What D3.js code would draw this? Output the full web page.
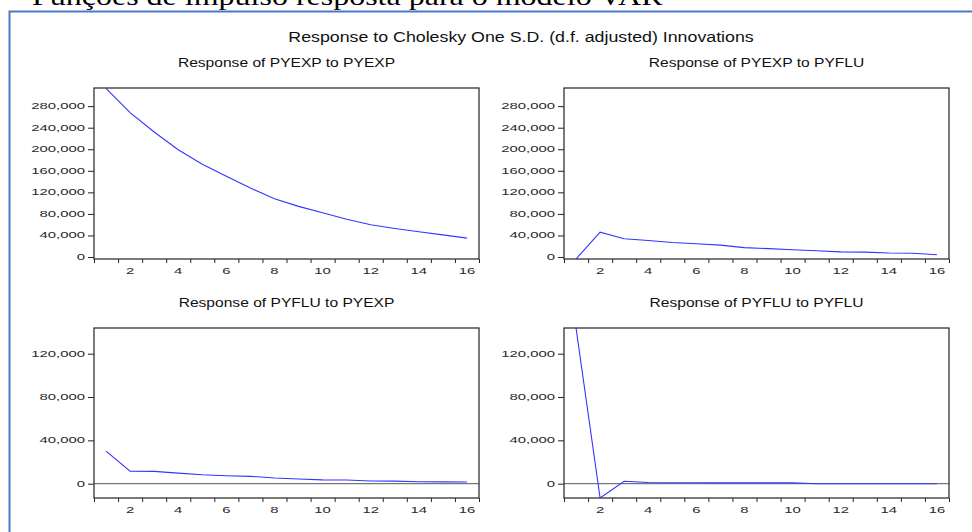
<!DOCTYPE html>
<html>
<head>
<meta charset="utf-8">
<script src="https://cdn.jsdelivr.net/npm/d3@7"></script>
<style>
  body { margin: 0; background: #fff; }
  svg { display: block; }
</style>
</head>
<body>
<div id="chart"></div>
<script>
// periods of the impulse response
const periods = [1, 2, 3, 4, 5, 6, 7, 8, 9, 10, 11, 12, 13, 14, 15, 16];
const xLabels = [2, 4, 6, 8, 10, 12, 14, 16];

// responses
const pyexpToPyexp = [313000, 268000, 232000, 199000, 172000, 150000, 128000, 108000, 94000, 82000, 70000, 60000, 53000, 47000, 41000, 35000];
const pyexpToPyflu = [-3700, 46000, 34000, 30500, 27000, 24500, 22000, 17500, 15500, 13500, 11500, 9500, 9000, 7500, 7000, 4300];
const pyfluToPyexp = [30000, 11500, 11400, 9800, 8300, 7400, 6800, 5300, 4400, 3500, 3400, 2500, 2400, 1800, 1700, 1500];
const pyfluToPyflu = [143700, -13200, 2200, 1100, 900, 850, 800, 800, 750, 750, 0, 0, 0, 0, 0, 0];

const yTicksTop = [0, 40000, 80000, 120000, 160000, 200000, 240000, 280000];
const yTicksBottom = [0, 40000, 80000, 120000];

const pageTitle = "Funções de impulso resposta para o modelo VAR";
const mainTitle = "Response to Cholesky One S.D. (d.f. adjusted) Innovations";

const width = 972, height = 532;
const svg = d3.select("#chart").append("svg").attr("width", width).attr("height", height);

// stretched text, the source image is widened horizontally
function addText(g, x, y, txt, size, sx, anchor, opts = {}) {
    return g.append("text")
        .attr("transform", `translate(${x},${y}) scale(${sx},1)`)
        .attr("text-anchor", anchor)
        .attr("font-family", opts.family || "Liberation Sans, Arial, sans-serif")
        .attr("font-size", size)
        .attr("fill", opts.fill || "#111")
        .text(txt);
}

// document heading (cut at the top of the picture)
addText(svg, 32, 5, pageTitle, 25, 1.28, "start", { family: "Liberation Serif, Times New Roman, serif", fill: "#000" });

// blue frame of the embedded graph
svg.append("rect")
    .attr("x", 9.5).attr("y", 11.5)
    .attr("width", 1000).attr("height", 600)
    .attr("fill", "none")
    .attr("stroke", "#4a78c8")
    .attr("stroke-width", 2);

addText(svg, 521, 42, mainTitle, 14, 1.27, "middle");

const panels = [
    { title: "Response of PYEXP to PYEXP", data: pyexpToPyexp, x0: 94, x1: 479, y0: 88, y1: 259, dom: [-3700, 313700], ticks: yTicksTop, zero: false },
    { title: "Response of PYEXP to PYFLU", data: pyexpToPyflu, x0: 564, x1: 949, y0: 88, y1: 259, dom: [-3700, 313700], ticks: yTicksTop, zero: false },
    { title: "Response of PYFLU to PYEXP", data: pyfluToPyexp, x0: 94, x1: 479, y0: 328, y1: 498, dom: [-13200, 143700], ticks: yTicksBottom, zero: true },
    { title: "Response of PYFLU to PYFLU", data: pyfluToPyflu, x0: 564, x1: 949, y0: 328, y1: 498, dom: [-13200, 143700], ticks: yTicksBottom, zero: true }
];

const fmt = d3.format(",");

panels.forEach((p, i) => {
    const g = svg.append("g");
    const x = d3.scaleLinear().domain([0.5, 16.5]).range([p.x0, p.x1]);
    const y = d3.scaleLinear().domain(p.dom).range([p.y1, p.y0]);

    addText(g, (p.x0 + p.x1) / 2, p.y0 - 21, p.title, 12, 1.3, "middle");

    // y axis
    const yAxis = g.append("g")
        .attr("transform", `translate(${p.x0},0)`)
        .call(d3.axisLeft(y).tickValues(p.ticks).tickSize(6).tickFormat(""));
    yAxis.select(".domain").remove();
    yAxis.selectAll(".tick line").attr("stroke", "#222");
    p.ticks.forEach(t => {
        addText(g, p.x0 - 9, y(t) + 3, fmt(t), 8.5, 1.75, "end", { fill: "#2a2a2a" });
    });

    // x axis, ticks between periods
    const xAxis = g.append("g")
        .attr("transform", `translate(0,${p.y1})`)
        .call(d3.axisBottom(x).tickValues(d3.range(0.5, 17, 1)).tickSize(4).tickFormat(""));
    xAxis.select(".domain").remove();
    xAxis.selectAll(".tick line").attr("stroke", "#222");
    xLabels.forEach(v => {
        addText(g, x(v), p.y1 + 14.5, v, 8.5, 1.75, "middle", { fill: "#2a2a2a" });
    });

    // clip and zero line
    const clipId = "clip" + i;
    g.append("clipPath").attr("id", clipId)
        .append("rect")
        .attr("x", p.x0).attr("y", p.y0)
        .attr("width", p.x1 - p.x0).attr("height", p.y1 - p.y0);

    if (p.zero) {
        g.append("line")
            .attr("x1", p.x0).attr("x2", p.x1)
            .attr("y1", y(0)).attr("y2", y(0))
            .attr("stroke", "#555")
            .attr("stroke-width", 1);
    }

    const line = d3.line()
        .x((d, j) => x(periods[j]))
        .y(d => y(d));

    g.append("path")
        .datum(p.data)
        .attr("clip-path", `url(#${clipId})`)
        .attr("fill", "none")
        .attr("stroke", "#3535ff")
        .attr("stroke-width", 1.1)
        .attr("d", line);

    // plot box
    g.append("rect")
        .attr("x", p.x0).attr("y", p.y0)
        .attr("width", p.x1 - p.x0).attr("height", p.y1 - p.y0)
        .attr("fill", "none")
        .attr("stroke", "#333")
        .attr("stroke-width", 1.3);
});
</script>
</body>
</html>
